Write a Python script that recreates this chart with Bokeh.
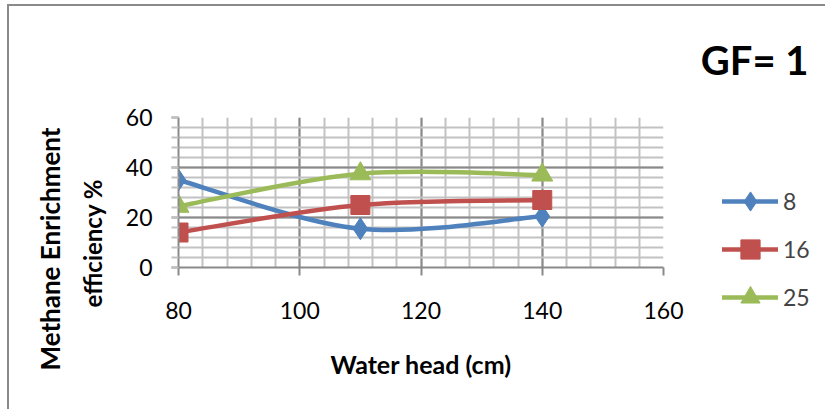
import numpy as np
from bokeh.plotting import figure
from bokeh.models import (Range1d, Legend, LegendItem, FixedTicker, Title,
                          InlineStyleSheet)
from bokeh.embed import file_html
from bokeh.resources import INLINE

water_head = [80, 110, 140]
series_names = ["8", "16", "25"]
eff_8 = [35.0, 15.5, 20.5]
eff_16 = [14.0, 25.0, 27.0]
eff_25 = [24.5, 37.5, 37.0]
x_ticks = [80, 100, 120, 140, 160]
y_ticks = [0, 20, 40, 60]

colors = ["#4F81BD", "#C0504D", "#9BBB59"]
markers = ["diamond", "square", "triangle"]
msizes = [22, 19, 21]

FONT = "Lato"
W, H = 825, 409
FL, FR, FT, FB = 178, 663, 117, 267  # frame edges in canvas px

p = figure(frame_width=FR - FL, frame_height=FB - FT,
           output_backend="svg", toolbar_location=None,
           x_range=Range1d(80, 160), y_range=Range1d(0, 60),
           min_border_left=FL, min_border_right=W - FR,
           min_border_top=FT, min_border_bottom=H - FB)
p.outline_line_color = None
p.background_fill_color = "white"
p.border_fill_color = "white"

# grids
p.xgrid.ticker = FixedTicker(ticks=x_ticks, minor_ticks=list(range(80, 161, 4)))
p.ygrid.ticker = FixedTicker(ticks=y_ticks, minor_ticks=list(range(0, 61, 4)))
for g in (p.xgrid, p.ygrid):
    g.grid_line_color = "#8a8a8a"
    g.grid_line_width = 2
    g.minor_grid_line_color = "#c2c2c2"
    g.minor_grid_line_width = 2
    g.level = "underlay"

# axes
p.xaxis.ticker = FixedTicker(ticks=x_ticks)
p.yaxis.ticker = FixedTicker(ticks=y_ticks, minor_ticks=list(range(0, 61, 4)))
for ax in (p.xaxis, p.yaxis):
    ax.axis_line_color = "#8a8a8a"
    ax.axis_line_width = 2
    ax.major_tick_line_color = "#8a8a8a"
    ax.major_tick_line_width = 2
    ax.major_tick_in = 0
    ax.minor_tick_in = 0
    ax.major_label_text_font = FONT
    ax.major_label_text_font_size = "23px"
    ax.major_label_text_color = "black"
p.xaxis.major_tick_out = 8
p.xaxis.minor_tick_out = 0
p.xaxis.major_label_standoff = 26
p.yaxis.major_tick_out = 7
p.yaxis.minor_tick_out = 7
p.yaxis.minor_tick_line_color = "#c2c2c2"
p.yaxis.minor_tick_line_width = 2
p.yaxis.major_label_standoff = 19

p.xaxis.axis_label = "Water head (cm)"
p.xaxis.axis_label_text_font = FONT
p.xaxis.axis_label_text_font_size = "25px"
p.xaxis.axis_label_text_font_style = "bold"
p.xaxis.axis_label_text_color = "black"
p.xaxis.axis_label_standoff = 27

# smoothed lines (Excel-like Catmull-Rom bezier)
def bez(xs, ys):
    xs = np.asarray(xs, float); ys = np.asarray(ys, float)
    n = len(xs)
    px = np.concatenate([[xs[0]], xs, [xs[-1]]])
    py = np.concatenate([[ys[0]], ys, [ys[-1]]])
    out = {k: [] for k in ("x0", "y0", "x1", "y1", "cx0", "cy0", "cx1", "cy1")}
    for i in range(n - 1):
        a, b, c, d = i, i + 1, i + 2, i + 3
        out["x0"].append(px[b]); out["y0"].append(py[b])
        out["x1"].append(px[c]); out["y1"].append(py[c])
        out["cx0"].append(px[b] + (px[c] - px[a]) / 6)
        out["cy0"].append(py[b] + (py[c] - py[a]) / 6)
        out["cx1"].append(px[c] - (px[d] - px[b]) / 6)
        out["cy1"].append(py[c] - (py[d] - py[b]) / 6)
    return out

items = []
for name, ys, col, mk, ms in zip(series_names, [eff_8, eff_16, eff_25], colors, markers, msizes):
    p.bezier(source=bez(water_head, ys), x0="x0", y0="y0", x1="x1", y1="y1",
             cx0="cx0", cy0="cy0", cx1="cx1", cy1="cy1",
             line_color=col, line_width=4.5)
    sc = p.scatter(water_head, ys, marker=mk, size=ms, fill_color=col, line_color=col)
    proxy = p.line([np.nan, np.nan], [np.nan, np.nan], line_color=col,
                   line_width=4.5, line_cap="round")
    items.append(LegendItem(label=name, renderers=[proxy, sc]))

legend = Legend(items=items, location=(722 - FR, FB - 321),
                glyph_width=56, glyph_height=48, label_height=48,
                label_standoff=5, spacing=0, padding=0, margin=0,
                label_text_font=FONT, label_text_font_size="23px",
                border_line_color=None, background_fill_alpha=0)
p.add_layout(legend, "right")

# title
p.title.text = "GF= 1"
p.title.align = "right"
p.title.vertical_align = "middle"
p.title.offset = -145
p.title.text_font = FONT
p.title.text_font_size = "40px"
p.title.text_font_style = "bold"
p.title.text_color = "black"
p.title.standoff = 66

# y-axis title in two lines
t2 = Title(text="efficiency %", align="left", offset=-40, standoff=31,
           text_font=FONT, text_font_size="24px", text_font_style="bold",
           text_color="black")
t1 = Title(text="Methane Enrichment", align="left", offset=-103, standoff=-11,
           text_font=FONT, text_font_size="26px", text_font_style="bold",
           text_color="black")
p.add_layout(t2, "left")
p.add_layout(t1, "left")

# chart-area border (left and top edges visible)
p.stylesheets = [InlineStyleSheet(css="""
:host { position: relative; }
:host::after { content: ''; position: absolute; left: 7px; top: 4px;
  right: -20px; bottom: -20px; border: 2px solid #8a8a8a; pointer-events: none; }
""")]

open("out.html", "w").write(file_html(p, INLINE))
